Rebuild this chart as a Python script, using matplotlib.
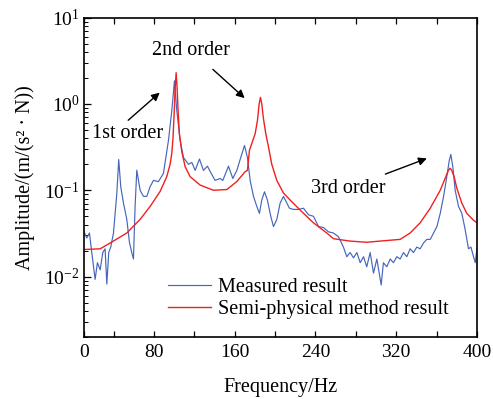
import matplotlib

matplotlib.use("Agg")
import matplotlib.pyplot as plt
from matplotlib.ticker import LogLocator, MultipleLocator, NullFormatter

plt.rcParams["font.family"] = ["Liberation Serif", "DejaVu Serif"]
plt.rcParams["mathtext.fontset"] = "stix"

meas_f = [10.8, 13.4, 16.1, 18.4, 21.7, 24.0, 26.7, 29.3, 31.6, 33.3, 35.2, 37.2,
          39.9, 43.2, 45.1, 47.1, 49.8, 53.1, 55.7, 58.0, 59.7, 61.3, 63.0, 66.3,
          69.6, 72.9, 76.2, 79.5, 84.4, 89.4, 94.4, 97.7, 100.3, 102.6, 105.9,
          109.2, 114.2, 117.5, 120.8, 125.1, 129.0, 133.0, 136.3, 140.6, 145.6,
          148.2, 153.8, 158.1, 162.1, 166.0, 169.7, 172.6, 175.3, 178.6, 181.9,
          184.5, 186.8, 189.5, 192.4, 195.7, 198.4, 201.7, 205.0, 208.3, 210.9,
          214.2, 218.2, 223.2, 228.1, 233.1, 238.0, 243.0, 248.0, 252.9, 257.8,
          262.8, 267.7, 271.0, 274.3, 277.7, 281.0, 284.3, 287.6, 290.8, 294.2,
          297.5, 300.8, 305.1, 307.3, 310.7, 314.0, 317.3, 320.6, 323.9, 327.2,
          330.5, 333.8, 337.1, 340.4, 343.7, 347.0, 350.3, 353.7, 357.0, 360.3,
          363.6, 366.9, 370.1, 372.5, 374.1, 376.1, 378.4, 381.7, 385.0, 388.3,
          391.6, 394.0, 396.6, 398.3, 400.0]
meas_amp = [0.033, 0.028, 0.032, 0.019, 0.0093, 0.0145, 0.012, 0.019, 0.021, 0.0082,
            0.019, 0.022, 0.032, 0.092, 0.227, 0.11, 0.071, 0.046, 0.025, 0.019,
            0.016, 0.065, 0.171, 0.10, 0.085, 0.085, 0.11, 0.13, 0.126, 0.157,
            0.38, 0.84, 1.85, 0.84, 0.38, 0.24, 0.20, 0.21, 0.17, 0.23, 0.17,
            0.19, 0.16, 0.13, 0.137, 0.13, 0.19, 0.137, 0.17, 0.24, 0.33, 0.24,
            0.13, 0.085, 0.065, 0.054, 0.077, 0.096, 0.077, 0.05, 0.038, 0.046,
            0.071, 0.085, 0.074, 0.062, 0.06, 0.06, 0.062, 0.052, 0.05, 0.038,
            0.037, 0.033, 0.032, 0.029, 0.022, 0.017, 0.019, 0.0165, 0.019,
            0.0145, 0.017, 0.013, 0.019, 0.011, 0.016, 0.008, 0.0145, 0.013,
            0.016, 0.0145, 0.017, 0.016, 0.019, 0.017, 0.021, 0.019, 0.022,
            0.021, 0.0245, 0.027, 0.027, 0.032, 0.038, 0.054, 0.085, 0.143, 0.22,
            0.26, 0.187, 0.10, 0.065, 0.054, 0.035, 0.021, 0.022, 0.017, 0.0145,
            0.021]

# semi-physical model
model_f = [10.8, 26.7, 36.6, 53.1, 66.3, 76.2, 86.1, 92.7, 96.0, 97.7, 98.9,
           100.0, 101.0, 101.97, 102.9, 103.9, 105.2, 107.6, 110.9, 115.8, 125.7,
           138.9, 152.2, 162.0, 170.3, 172.6, 174.6, 180.2, 182.5, 184.2, 185.5,
           186.8, 188.5, 190.8, 193.4, 196.7, 201.7, 208.3, 214.9, 224.8, 238.0,
           251.2, 257.8, 274.3, 290.8, 307.3, 323.9, 333.8, 343.7, 353.7, 363.6,
           368.4, 371.7, 373.4, 375.0, 377.4, 380.0, 385.0, 389.9, 396.5, 400.0]
model_amp = [0.0206, 0.021, 0.0245, 0.032, 0.046, 0.065, 0.097, 0.144, 0.2, 0.27,
             0.41, 0.77, 1.55, 2.3, 1.55, 0.84, 0.45, 0.28, 0.187, 0.144, 0.115,
             0.10, 0.102, 0.126, 0.164, 0.17, 0.29, 0.45, 0.64, 1.0, 1.19, 1.0,
             0.67, 0.45, 0.32, 0.2, 0.13, 0.093, 0.077, 0.059, 0.042, 0.032,
             0.0275, 0.0258, 0.025, 0.026, 0.027, 0.032, 0.042, 0.062, 0.10,
             0.137, 0.17, 0.18, 0.17, 0.143, 0.106, 0.071, 0.054, 0.045, 0.042]

x_labels = ["0", "80", "160", "240", "320", "400"]
x_lo = 10.7

fig = plt.figure(figsize=(4.93, 3.99), dpi=100)
ax = fig.add_axes([0.1704, 0.1554, 0.7971, 0.8006])

ax.plot(meas_f, meas_amp, color="#4566ba", lw=0.85, label="Measured result")
ax.plot(model_f, model_amp, color="#f02020", lw=1.0, label="Semi-physical method result")

ax.set_yscale("log")
ax.set_ylim(0.002, 10)
ax.set_xlim(x_lo, 400)
ax.set_xticks([x_lo, 80, 160, 240, 320, 400], labels=x_labels)
ax.xaxis.set_minor_locator(MultipleLocator(40))
ax.yaxis.set_major_locator(LogLocator(base=10, numticks=10))
ax.yaxis.set_minor_locator(LogLocator(base=10, subs=range(2, 10), numticks=20))
ax.yaxis.set_minor_formatter(NullFormatter())

ax.tick_params(axis="both", which="both", direction="in", labelsize=14)
ax.tick_params(axis="x", which="both", length=4, width=0.9, top=True, pad=5)
ax.tick_params(axis="y", which="major", length=5, width=0.9, right=False, pad=3)
ax.tick_params(axis="y", which="minor", length=3, width=0.7, right=False)
for s in ax.spines.values():
    s.set_linewidth(1.2)

ax.set_xlabel("Frequency/Hz", fontsize=14.5, labelpad=12)
ax.set_ylabel("Amplitude/(m/(s² · N))", fontsize=14.5, labelpad=7)

arrow = dict(arrowstyle="-|>", color="black", lw=1.0, mutation_scale=12)
ax.annotate("", xy=(87.8, 1.42), xytext=(52.4, 0.616), arrowprops=arrow)
ax.annotate("", xy=(171.9, 1.11), xytext=(136.3, 2.64), arrowprops=arrow)
ax.annotate("", xy=(352.9, 0.24), xytext=(306.7, 0.15), arrowprops=arrow)
ax.text(53.4, 0.46, "1st order", fontsize=14.5, ha="center", va="center")
ax.text(116.8, 4.17, "2nd order", fontsize=14.5, ha="center", va="center")
ax.text(272.7, 0.1035, "3rd order", fontsize=14.5, ha="center", va="center")

ax.legend(loc="lower left", bbox_to_anchor=(0.2035, 0.045), frameon=False,
          fontsize=14.5, handlelength=2.15, handletextpad=0.35,
          labelspacing=0.1, borderpad=0.2, borderaxespad=0.0)

fig.savefig("out.png", dpi=100)
